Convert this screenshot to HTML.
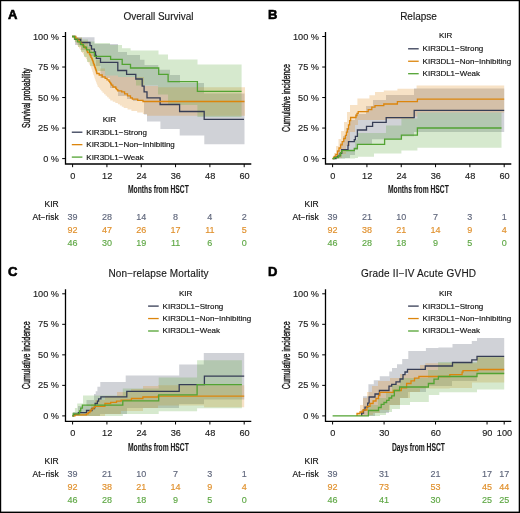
<!DOCTYPE html><html><head><meta charset="utf-8"><style>html,body{margin:0;padding:0;width:520px;height:513px;overflow:hidden;background:#fff}</style></head><body><svg width="520" height="513" viewBox="0 0 520 513" style="position:absolute;left:0;top:0;will-change:transform">
<g font-family='"Liberation Sans", sans-serif'>
<rect x="0" y="0" width="520" height="513" fill="#fff"/>
<rect x="0" y="0" width="520" height="1.2" fill="#000"/><rect x="0" y="0" width="1.2" height="513" fill="#000"/><rect x="518.7" y="0" width="1.3" height="513" fill="#000"/><rect x="0" y="511.6" width="520" height="1.4" fill="#000"/>
<path d="M72.00 36.50 L77.00 36.50 L77.00 37.30 L94.50 37.30 L94.50 44.00 L118.00 44.00 L118.00 52.00 L127.00 52.00 L127.00 55.00 L140.00 55.00 L140.00 59.70 L144.50 59.70 L144.50 65.00 L158.30 65.00 L158.30 69.70 L170.00 69.70 L170.00 75.00 L180.00 75.00 L180.00 83.00 L204.00 83.00 L204.00 93.60 L244.50 93.60 L244.50 144.20 L204.30 144.20 L204.30 135.60 L179.70 135.60 L179.70 129.00 L160.40 129.00 L160.40 121.50 L147.00 121.50 L147.00 114.60 L144.00 114.60 L144.00 101.00 L133.00 101.00 L133.00 99.00 L127.00 99.00 L127.00 96.00 L118.00 96.00 L118.00 88.00 L110.00 88.00 L110.00 78.00 L100.50 78.00 L100.50 66.00 L96.00 66.00 L96.00 56.00 L90.00 56.00 L90.00 50.00 L81.00 50.00 L81.00 45.00 L75.00 45.00 L75.00 36.50 L72.00 36.50Z" fill="#434a60" fill-opacity="0.25" stroke="none"/>
<path d="M72.00 36.50 L76.00 36.50 L76.00 37.50 L82.00 37.50 L82.00 41.00 L88.00 41.00 L88.00 47.00 L92.00 47.00 L92.00 52.00 L96.00 52.00 L96.00 60.00 L100.00 60.00 L100.00 68.50 L105.00 68.50 L105.00 75.40 L118.00 75.40 L118.00 77.00 L144.00 77.00 L144.00 86.00 L158.00 86.00 L158.00 87.20 L245.00 87.20 L245.00 115.80 L147.00 115.80 L147.00 114.00 L142.90 114.00 L142.90 112.50 L137.15 112.50 L137.15 111.00 L131.40 111.00 L131.40 109.50 L127.55 109.50 L127.55 108.00 L123.70 108.00 L123.70 106.73 L121.77 106.73 L121.77 105.47 L119.83 105.47 L119.83 104.20 L117.90 104.20 L117.90 102.93 L115.33 102.93 L115.33 101.67 L112.77 101.67 L112.77 100.40 L110.20 100.40 L110.20 98.86 L108.66 98.86 L108.66 97.32 L107.12 97.32 L107.12 95.78 L105.58 95.78 L105.58 94.24 L104.04 94.24 L104.04 92.70 L102.50 92.70 L102.50 91.25 L101.30 91.25 L101.30 89.80 L100.10 89.80 L100.10 88.35 L98.90 88.35 L98.90 86.90 L97.70 86.90 L97.70 85.36 L97.12 85.36 L97.12 83.82 L96.54 83.82 L96.54 82.28 L95.96 82.28 L95.96 80.74 L95.38 80.74 L95.38 79.20 L94.80 79.20 L94.80 77.76 L94.33 77.76 L94.33 76.33 L93.85 76.33 L93.85 74.89 L93.38 74.89 L93.38 73.45 L92.90 73.45 L92.90 72.01 L92.42 72.01 L92.42 70.58 L91.95 70.58 L91.95 69.14 L91.47 69.14 L91.47 67.70 L91.00 67.70 L91.00 66.25 L90.17 66.25 L90.17 64.80 L89.33 64.80 L89.33 63.35 L88.50 63.35 L88.50 61.90 L87.67 61.90 L87.67 60.45 L86.83 60.45 L86.83 59.00 L86.00 59.00 L86.00 57.50 L85.00 57.50 L85.00 56.00 L84.00 56.00 L84.00 54.50 L83.00 54.50 L83.00 53.00 L82.00 53.00 L82.00 51.50 L81.00 51.50 L81.00 50.00 L80.00 50.00 L80.00 48.50 L79.00 48.50 L79.00 47.00 L78.00 47.00 L78.00 45.60 L77.20 45.60 L77.20 44.20 L76.40 44.20 L76.40 42.80 L75.60 42.80 L75.60 41.40 L74.80 41.40 L74.80 40.00 L74.00 40.00 L74.00 38.25 L73.00 38.25 L73.00 36.50 L72.00 36.50Z" fill="#e08a1a" fill-opacity="0.25" stroke="none"/>
<path d="M72.00 36.50 L76.00 36.50 L76.00 37.50 L82.00 37.50 L82.00 39.50 L88.00 39.50 L88.00 41.50 L94.50 41.50 L94.50 43.10 L110.00 43.10 L110.00 45.10 L122.00 45.10 L122.00 48.20 L130.60 48.20 L130.60 50.50 L158.50 50.50 L158.50 54.50 L168.00 54.50 L168.00 59.50 L197.50 59.50 L197.50 64.60 L241.60 64.60 L241.60 117.00 L197.40 117.00 L197.40 105.00 L168.10 105.00 L168.10 94.60 L158.00 94.60 L158.00 85.40 L136.00 85.40 L136.00 77.00 L118.00 77.00 L118.00 75.40 L105.00 75.40 L105.00 71.00 L96.00 71.00 L96.00 66.00 L90.00 66.00 L90.00 62.00 L87.00 62.00 L87.00 57.00 L84.00 57.00 L84.00 52.00 L81.00 52.00 L81.00 47.00 L78.00 47.00 L78.00 42.00 L75.00 42.00 L75.00 36.50 L72.00 36.50Z" fill="#5aa83c" fill-opacity="0.25" stroke="none"/>
<path d="M72.00 36.50 L75.00 36.50 L75.00 39.40 L80.70 39.40 L80.70 42.50 L90.00 42.50 L90.00 45.70 L91.50 45.70 L91.50 49.10 L94.40 49.10 L94.40 52.00 L95.50 52.00 L95.50 55.30 L96.30 55.30 L96.30 58.40 L100.50 58.40 L100.50 62.40 L117.80 62.40 L117.80 70.50 L126.60 70.50 L126.60 74.40 L135.80 74.40 L135.80 79.00 L142.20 79.00 L142.20 86.10 L144.10 86.10 L144.10 91.90 L147.00 91.90 L147.00 97.80 L160.10 97.80 L160.10 104.50 L179.60 104.50 L179.60 111.50 L204.20 111.50 L204.20 119.30 L244.00 119.30" fill="none" stroke="#363d55" stroke-width="1.3"/>
<path d="M72.00 36.50 L75.80 36.50 L75.80 38.40 L77.55 38.40 L77.55 40.10 L79.30 40.10 L79.30 41.80 L80.43 41.80 L80.43 43.10 L81.57 43.10 L81.57 44.40 L82.70 44.40 L82.70 45.70 L84.00 45.70 L84.00 47.00 L85.30 47.00 L85.30 48.30 L86.60 48.30 L86.60 49.60 L87.05 49.60 L87.05 51.05 L87.50 51.05 L87.50 52.50 L89.50 52.50 L89.50 54.50 L90.25 54.50 L90.25 55.95 L91.00 55.95 L91.00 57.40 L91.70 57.40 L91.70 58.85 L92.40 58.85 L92.40 60.30 L92.90 60.30 L92.90 61.80 L93.40 61.80 L93.40 63.30 L93.90 63.30 L93.90 64.75 L94.40 64.75 L94.40 66.20 L94.87 66.20 L94.87 67.50 L95.33 67.50 L95.33 68.80 L95.80 68.80 L95.80 70.10 L96.30 70.10 L96.30 71.80 L96.80 71.80 L96.80 73.50 L99.20 73.50 L99.20 75.00 L102.20 75.00 L102.20 76.90 L105.10 76.90 L105.10 78.40 L107.05 78.40 L107.05 79.85 L109.00 79.85 L109.00 81.30 L109.83 81.30 L109.83 82.57 L110.67 82.57 L110.67 83.83 L111.50 83.83 L111.50 85.10 L112.90 85.10 L112.90 87.00 L115.80 87.00 L115.80 88.50 L116.80 88.50 L116.80 89.70 L117.80 89.70 L117.80 90.90 L121.70 90.90 L121.70 91.90 L124.60 91.90 L124.60 93.90 L127.50 93.90 L127.50 95.80 L130.50 95.80 L130.50 97.80 L132.40 97.80 L132.40 99.20 L137.70 99.20 L137.70 100.35 L143.00 100.35 L143.00 101.50 L244.50 101.50" fill="none" stroke="#dc850c" stroke-width="1.3"/>
<path d="M72.00 36.50 L74.50 36.50 L74.50 39.20 L77.50 39.20 L77.50 41.80 L80.50 41.80 L80.50 44.50 L83.50 44.50 L83.50 47.10 L86.50 47.10 L86.50 49.80 L89.50 49.80 L89.50 52.40 L94.40 52.40 L94.40 56.30 L110.60 56.30 L110.60 59.30 L122.20 59.30 L122.20 64.40 L130.50 64.40 L130.50 68.00 L158.70 68.00 L158.70 74.40 L168.10 74.40 L168.10 81.70 L197.40 81.70 L197.40 91.40 L241.60 91.40" fill="none" stroke="#52a332" stroke-width="1.3"/>
<g transform="translate(0,0)">
<text x="7.90" y="18.50" font-size="13" text-anchor="start" fill="#000" font-weight="bold" stroke="#000" stroke-width="0.6">A</text>
<text x="158.50" y="19.60" font-size="10" text-anchor="middle" fill="#1a1a1a" font-weight="normal" letter-spacing="0" stroke="#1a1a1a" stroke-width="0.15">Overall Survival</text>
<path d="M65.5 32 V164.0 H251.3" fill="none" stroke="#000" stroke-width="1.3"/>
<path d="M62.2 158.60 H65.5" stroke="#000" stroke-width="1"/>
<text x="59.00" y="161.60" font-size="9.2" text-anchor="end" fill="#222" font-weight="normal" stroke="#222" stroke-width="0.15">0 %</text>
<path d="M62.2 128.07 H65.5" stroke="#000" stroke-width="1"/>
<text x="59.00" y="131.07" font-size="9.2" text-anchor="end" fill="#222" font-weight="normal" stroke="#222" stroke-width="0.15">25 %</text>
<path d="M62.2 97.55 H65.5" stroke="#000" stroke-width="1"/>
<text x="59.00" y="100.55" font-size="9.2" text-anchor="end" fill="#222" font-weight="normal" stroke="#222" stroke-width="0.15">50 %</text>
<path d="M62.2 67.02 H65.5" stroke="#000" stroke-width="1"/>
<text x="59.00" y="70.02" font-size="9.2" text-anchor="end" fill="#222" font-weight="normal" stroke="#222" stroke-width="0.15">75 %</text>
<path d="M62.2 36.50 H65.5" stroke="#000" stroke-width="1"/>
<text x="59.00" y="39.50" font-size="9.2" text-anchor="end" fill="#222" font-weight="normal" stroke="#222" stroke-width="0.15">100 %</text>
<path d="M72.60 164.0 V167.2" stroke="#000" stroke-width="1"/>
<text x="72.90" y="178.70" font-size="9.2" text-anchor="middle" fill="#222" font-weight="normal" stroke="#222" stroke-width="0.15">0</text>
<path d="M106.92 164.0 V167.2" stroke="#000" stroke-width="1"/>
<text x="107.22" y="178.70" font-size="9.2" text-anchor="middle" fill="#222" font-weight="normal" stroke="#222" stroke-width="0.15">12</text>
<path d="M141.24 164.0 V167.2" stroke="#000" stroke-width="1"/>
<text x="141.54" y="178.70" font-size="9.2" text-anchor="middle" fill="#222" font-weight="normal" stroke="#222" stroke-width="0.15">24</text>
<path d="M175.56 164.0 V167.2" stroke="#000" stroke-width="1"/>
<text x="175.86" y="178.70" font-size="9.2" text-anchor="middle" fill="#222" font-weight="normal" stroke="#222" stroke-width="0.15">36</text>
<path d="M209.88 164.0 V167.2" stroke="#000" stroke-width="1"/>
<text x="210.18" y="178.70" font-size="9.2" text-anchor="middle" fill="#222" font-weight="normal" stroke="#222" stroke-width="0.15">48</text>
<path d="M244.20 164.0 V167.2" stroke="#000" stroke-width="1"/>
<text x="244.50" y="178.70" font-size="9.2" text-anchor="middle" fill="#222" font-weight="normal" stroke="#222" stroke-width="0.15">60</text>
<g transform="translate(158.40,193.20) scale(0.64,1)"><text x="0" y="0" font-size="10.5" text-anchor="middle" fill="#1a1a1a" font-weight="bold" stroke="#1a1a1a" stroke-width="0.1">Months from HSCT</text></g>
<g transform="translate(30.00,98.00) rotate(-90) scale(0.7,1)"><text x="0" y="0" font-size="10.2" text-anchor="middle" fill="#1a1a1a" font-weight="normal" stroke="#1a1a1a" stroke-width="0.4">Survival probability</text></g>
<text x="58.70" y="207.00" font-size="8.5" text-anchor="end" fill="#111" font-weight="normal" stroke="#111" stroke-width="0.15">KIR</text>
<text x="58.70" y="219.90" font-size="8.5" text-anchor="end" fill="#111" font-weight="normal" stroke="#111" stroke-width="0.15">At−risk</text>
<text x="72.60" y="219.90" font-size="9.0" text-anchor="middle" fill="#60677c" font-weight="normal" stroke="#60677c" stroke-width="0.15">39</text>
<text x="106.92" y="219.90" font-size="9.0" text-anchor="middle" fill="#60677c" font-weight="normal" stroke="#60677c" stroke-width="0.15">28</text>
<text x="141.24" y="219.90" font-size="9.0" text-anchor="middle" fill="#60677c" font-weight="normal" stroke="#60677c" stroke-width="0.15">14</text>
<text x="175.56" y="219.90" font-size="9.0" text-anchor="middle" fill="#60677c" font-weight="normal" stroke="#60677c" stroke-width="0.15">8</text>
<text x="209.88" y="219.90" font-size="9.0" text-anchor="middle" fill="#60677c" font-weight="normal" stroke="#60677c" stroke-width="0.15">4</text>
<text x="244.20" y="219.90" font-size="9.0" text-anchor="middle" fill="#60677c" font-weight="normal" stroke="#60677c" stroke-width="0.15">2</text>
<text x="72.60" y="233.00" font-size="9.0" text-anchor="middle" fill="#e0902c" font-weight="normal" stroke="#e0902c" stroke-width="0.15">92</text>
<text x="106.92" y="233.00" font-size="9.0" text-anchor="middle" fill="#e0902c" font-weight="normal" stroke="#e0902c" stroke-width="0.15">47</text>
<text x="141.24" y="233.00" font-size="9.0" text-anchor="middle" fill="#e0902c" font-weight="normal" stroke="#e0902c" stroke-width="0.15">26</text>
<text x="175.56" y="233.00" font-size="9.0" text-anchor="middle" fill="#e0902c" font-weight="normal" stroke="#e0902c" stroke-width="0.15">17</text>
<text x="209.88" y="233.00" font-size="9.0" text-anchor="middle" fill="#e0902c" font-weight="normal" stroke="#e0902c" stroke-width="0.15">11</text>
<text x="244.20" y="233.00" font-size="9.0" text-anchor="middle" fill="#e0902c" font-weight="normal" stroke="#e0902c" stroke-width="0.15">5</text>
<text x="72.60" y="245.70" font-size="9.0" text-anchor="middle" fill="#5fa845" font-weight="normal" stroke="#5fa845" stroke-width="0.15">46</text>
<text x="106.92" y="245.70" font-size="9.0" text-anchor="middle" fill="#5fa845" font-weight="normal" stroke="#5fa845" stroke-width="0.15">30</text>
<text x="141.24" y="245.70" font-size="9.0" text-anchor="middle" fill="#5fa845" font-weight="normal" stroke="#5fa845" stroke-width="0.15">19</text>
<text x="175.56" y="245.70" font-size="9.0" text-anchor="middle" fill="#5fa845" font-weight="normal" stroke="#5fa845" stroke-width="0.15">11</text>
<text x="209.88" y="245.70" font-size="9.0" text-anchor="middle" fill="#5fa845" font-weight="normal" stroke="#5fa845" stroke-width="0.15">6</text>
<text x="244.20" y="245.70" font-size="9.0" text-anchor="middle" fill="#5fa845" font-weight="normal" stroke="#5fa845" stroke-width="0.15">0</text>
<text x="109.30" y="121.80" font-size="8" text-anchor="middle" fill="#111" font-weight="normal" stroke="#111" stroke-width="0.15">KIR</text>
<path d="M71.80 132.20 H82.40" stroke="#363d55" stroke-width="1.3"/>
<text x="86.30" y="134.70" font-size="8" text-anchor="start" fill="#111" font-weight="normal" stroke="#111" stroke-width="0.15">KIR3DL1−Strong</text>
<path d="M71.80 144.65 H82.40" stroke="#dc850c" stroke-width="1.3"/>
<text x="86.30" y="147.15" font-size="8" text-anchor="start" fill="#111" font-weight="normal" stroke="#111" stroke-width="0.15">KIR3DL1−Non−Inhibiting</text>
<path d="M71.80 157.10 H82.40" stroke="#52a332" stroke-width="1.3"/>
<text x="86.30" y="159.60" font-size="8" text-anchor="start" fill="#111" font-weight="normal" stroke="#111" stroke-width="0.15">KIR3DL1−Weak</text>
</g>
<path d="M332.60 158.60 L334.00 158.60 L334.00 156.00 L337.00 156.00 L337.00 150.00 L340.00 150.00 L340.00 143.00 L343.00 143.00 L343.00 136.00 L346.00 136.00 L346.00 128.00 L349.00 128.00 L349.00 120.00 L355.00 120.00 L355.00 114.00 L366.00 114.00 L366.00 106.00 L373.00 106.00 L373.00 100.00 L386.00 100.00 L386.00 95.00 L414.00 95.00 L414.00 88.50 L504.20 88.50 L504.20 132.00 L414.00 132.00 L414.00 136.20 L401.40 136.20 L401.40 139.20 L372.00 139.20 L372.00 145.00 L358.00 145.00 L358.00 150.00 L355.00 150.00 L355.00 155.00 L350.00 155.00 L350.00 158.00 L345.00 158.00 L345.00 158.60 L332.60 158.60Z" fill="#434a60" fill-opacity="0.25" stroke="none"/>
<path d="M332.60 158.60 L334.00 158.60 L334.00 153.00 L336.00 153.00 L336.00 146.00 L338.50 146.00 L338.50 139.00 L341.00 139.00 L341.00 131.00 L344.00 131.00 L344.00 122.00 L347.00 122.00 L347.00 112.00 L350.00 112.00 L350.00 105.00 L357.40 105.00 L357.40 98.40 L369.40 98.40 L369.40 95.20 L375.00 95.20 L375.00 92.00 L383.80 92.00 L383.80 90.40 L397.40 90.40 L397.40 88.80 L416.60 88.80 L416.60 85.60 L504.20 85.60 L504.20 112.60 L417.40 112.60 L417.40 116.50 L414.00 116.50 L414.00 119.00 L386.00 119.00 L386.00 120.00 L358.00 120.00 L358.00 125.00 L355.00 125.00 L355.00 132.00 L350.00 132.00 L350.00 146.00 L346.00 146.00 L346.00 154.00 L342.00 154.00 L342.00 158.00 L338.00 158.00 L338.00 158.60 L332.60 158.60Z" fill="#e08a1a" fill-opacity="0.25" stroke="none"/>
<path d="M332.60 158.60 L334.00 158.60 L334.00 157.00 L338.00 157.00 L338.00 155.00 L341.00 155.00 L341.00 152.00 L346.00 152.00 L346.00 149.00 L355.00 149.00 L355.00 140.00 L357.40 140.00 L357.40 133.00 L386.00 133.00 L386.00 125.40 L401.40 125.40 L401.40 118.50 L417.40 118.50 L417.40 112.60 L501.50 112.60 L501.50 147.80 L417.40 147.80 L417.40 150.40 L401.40 150.40 L401.40 153.60 L374.00 153.60 L374.00 156.80 L358.00 156.80 L358.00 158.00 L355.00 158.00 L355.00 158.60 L335.00 158.60 L335.00 158.60 L332.60 158.60Z" fill="#5aa83c" fill-opacity="0.25" stroke="none"/>
<path d="M332.60 158.60 L336.00 158.60 L336.00 157.00 L338.00 157.00 L338.00 155.90 L340.10 155.90 L340.10 153.30 L341.70 153.30 L341.70 149.60 L348.00 149.60 L348.00 145.40 L348.50 145.40 L348.50 141.70 L354.30 141.70 L354.30 139.60 L355.40 139.60 L355.40 136.40 L357.40 136.40 L357.40 130.00 L366.50 130.00 L366.50 126.40 L372.60 126.40 L372.60 122.40 L386.20 122.40 L386.20 117.60 L414.20 117.60 L414.20 110.40 L504.20 110.40" fill="none" stroke="#363d55" stroke-width="1.3"/>
<path d="M332.60 158.60 L333.50 158.60 L333.50 157.50 L334.30 157.50 L334.30 156.40 L335.90 156.40 L335.90 154.30 L337.50 154.30 L337.50 151.20 L339.00 151.20 L339.00 148.00 L340.60 148.00 L340.60 144.80 L342.20 144.80 L342.20 141.70 L343.80 141.70 L343.80 138.50 L345.40 138.50 L345.40 135.40 L346.40 135.40 L346.40 132.20 L347.50 132.20 L347.50 129.00 L348.50 129.00 L348.50 124.80 L349.60 124.80 L349.60 120.60 L350.60 120.60 L350.60 117.50 L356.00 117.50 L356.00 115.50 L357.00 115.50 L357.00 113.30 L358.20 113.30 L358.20 111.60 L368.20 111.60 L368.20 109.60 L371.80 109.60 L371.80 107.20 L375.00 107.20 L375.00 105.60 L383.80 105.60 L383.80 104.00 L397.40 104.00 L397.40 101.60 L417.40 101.60 L417.40 99.20 L504.20 99.20" fill="none" stroke="#dc850c" stroke-width="1.3"/>
<path d="M332.60 158.60 L334.30 158.60 L334.30 157.50 L338.50 157.50 L338.50 155.40 L340.60 155.40 L340.60 152.70 L341.70 152.70 L341.70 150.60 L354.30 150.60 L354.30 148.50 L357.40 148.50 L357.40 144.30 L384.60 144.30 L384.60 139.20 L401.40 139.20 L401.40 135.20 L417.40 135.20 L417.40 128.00 L501.50 128.00" fill="none" stroke="#52a332" stroke-width="1.3"/>
<g transform="translate(260,0)">
<text x="7.90" y="18.50" font-size="13" text-anchor="start" fill="#000" font-weight="bold" stroke="#000" stroke-width="0.6">B</text>
<text x="158.50" y="19.60" font-size="10" text-anchor="middle" fill="#1a1a1a" font-weight="normal" letter-spacing="0" stroke="#1a1a1a" stroke-width="0.15">Relapse</text>
<path d="M65.5 32 V164.0 H251.3" fill="none" stroke="#000" stroke-width="1.3"/>
<path d="M62.2 158.60 H65.5" stroke="#000" stroke-width="1"/>
<text x="59.00" y="161.60" font-size="9.2" text-anchor="end" fill="#222" font-weight="normal" stroke="#222" stroke-width="0.15">0 %</text>
<path d="M62.2 128.07 H65.5" stroke="#000" stroke-width="1"/>
<text x="59.00" y="131.07" font-size="9.2" text-anchor="end" fill="#222" font-weight="normal" stroke="#222" stroke-width="0.15">25 %</text>
<path d="M62.2 97.55 H65.5" stroke="#000" stroke-width="1"/>
<text x="59.00" y="100.55" font-size="9.2" text-anchor="end" fill="#222" font-weight="normal" stroke="#222" stroke-width="0.15">50 %</text>
<path d="M62.2 67.02 H65.5" stroke="#000" stroke-width="1"/>
<text x="59.00" y="70.02" font-size="9.2" text-anchor="end" fill="#222" font-weight="normal" stroke="#222" stroke-width="0.15">75 %</text>
<path d="M62.2 36.50 H65.5" stroke="#000" stroke-width="1"/>
<text x="59.00" y="39.50" font-size="9.2" text-anchor="end" fill="#222" font-weight="normal" stroke="#222" stroke-width="0.15">100 %</text>
<path d="M72.60 164.0 V167.2" stroke="#000" stroke-width="1"/>
<text x="72.90" y="178.70" font-size="9.2" text-anchor="middle" fill="#222" font-weight="normal" stroke="#222" stroke-width="0.15">0</text>
<path d="M106.92 164.0 V167.2" stroke="#000" stroke-width="1"/>
<text x="107.22" y="178.70" font-size="9.2" text-anchor="middle" fill="#222" font-weight="normal" stroke="#222" stroke-width="0.15">12</text>
<path d="M141.24 164.0 V167.2" stroke="#000" stroke-width="1"/>
<text x="141.54" y="178.70" font-size="9.2" text-anchor="middle" fill="#222" font-weight="normal" stroke="#222" stroke-width="0.15">24</text>
<path d="M175.56 164.0 V167.2" stroke="#000" stroke-width="1"/>
<text x="175.86" y="178.70" font-size="9.2" text-anchor="middle" fill="#222" font-weight="normal" stroke="#222" stroke-width="0.15">36</text>
<path d="M209.88 164.0 V167.2" stroke="#000" stroke-width="1"/>
<text x="210.18" y="178.70" font-size="9.2" text-anchor="middle" fill="#222" font-weight="normal" stroke="#222" stroke-width="0.15">48</text>
<path d="M244.20 164.0 V167.2" stroke="#000" stroke-width="1"/>
<text x="244.50" y="178.70" font-size="9.2" text-anchor="middle" fill="#222" font-weight="normal" stroke="#222" stroke-width="0.15">60</text>
<g transform="translate(158.40,193.20) scale(0.64,1)"><text x="0" y="0" font-size="10.5" text-anchor="middle" fill="#1a1a1a" font-weight="bold" stroke="#1a1a1a" stroke-width="0.1">Months from HSCT</text></g>
<g transform="translate(30.00,98.00) rotate(-90) scale(0.7,1)"><text x="0" y="0" font-size="10.2" text-anchor="middle" fill="#1a1a1a" font-weight="normal" stroke="#1a1a1a" stroke-width="0.4">Cumulative incidence</text></g>
<text x="58.70" y="207.00" font-size="8.5" text-anchor="end" fill="#111" font-weight="normal" stroke="#111" stroke-width="0.15">KIR</text>
<text x="58.70" y="219.90" font-size="8.5" text-anchor="end" fill="#111" font-weight="normal" stroke="#111" stroke-width="0.15">At−risk</text>
<text x="72.60" y="219.90" font-size="9.0" text-anchor="middle" fill="#60677c" font-weight="normal" stroke="#60677c" stroke-width="0.15">39</text>
<text x="106.92" y="219.90" font-size="9.0" text-anchor="middle" fill="#60677c" font-weight="normal" stroke="#60677c" stroke-width="0.15">21</text>
<text x="141.24" y="219.90" font-size="9.0" text-anchor="middle" fill="#60677c" font-weight="normal" stroke="#60677c" stroke-width="0.15">10</text>
<text x="175.56" y="219.90" font-size="9.0" text-anchor="middle" fill="#60677c" font-weight="normal" stroke="#60677c" stroke-width="0.15">7</text>
<text x="209.88" y="219.90" font-size="9.0" text-anchor="middle" fill="#60677c" font-weight="normal" stroke="#60677c" stroke-width="0.15">3</text>
<text x="244.20" y="219.90" font-size="9.0" text-anchor="middle" fill="#60677c" font-weight="normal" stroke="#60677c" stroke-width="0.15">1</text>
<text x="72.60" y="233.00" font-size="9.0" text-anchor="middle" fill="#e0902c" font-weight="normal" stroke="#e0902c" stroke-width="0.15">92</text>
<text x="106.92" y="233.00" font-size="9.0" text-anchor="middle" fill="#e0902c" font-weight="normal" stroke="#e0902c" stroke-width="0.15">38</text>
<text x="141.24" y="233.00" font-size="9.0" text-anchor="middle" fill="#e0902c" font-weight="normal" stroke="#e0902c" stroke-width="0.15">21</text>
<text x="175.56" y="233.00" font-size="9.0" text-anchor="middle" fill="#e0902c" font-weight="normal" stroke="#e0902c" stroke-width="0.15">14</text>
<text x="209.88" y="233.00" font-size="9.0" text-anchor="middle" fill="#e0902c" font-weight="normal" stroke="#e0902c" stroke-width="0.15">9</text>
<text x="244.20" y="233.00" font-size="9.0" text-anchor="middle" fill="#e0902c" font-weight="normal" stroke="#e0902c" stroke-width="0.15">4</text>
<text x="72.60" y="245.70" font-size="9.0" text-anchor="middle" fill="#5fa845" font-weight="normal" stroke="#5fa845" stroke-width="0.15">46</text>
<text x="106.92" y="245.70" font-size="9.0" text-anchor="middle" fill="#5fa845" font-weight="normal" stroke="#5fa845" stroke-width="0.15">28</text>
<text x="141.24" y="245.70" font-size="9.0" text-anchor="middle" fill="#5fa845" font-weight="normal" stroke="#5fa845" stroke-width="0.15">18</text>
<text x="175.56" y="245.70" font-size="9.0" text-anchor="middle" fill="#5fa845" font-weight="normal" stroke="#5fa845" stroke-width="0.15">9</text>
<text x="209.88" y="245.70" font-size="9.0" text-anchor="middle" fill="#5fa845" font-weight="normal" stroke="#5fa845" stroke-width="0.15">5</text>
<text x="244.20" y="245.70" font-size="9.0" text-anchor="middle" fill="#5fa845" font-weight="normal" stroke="#5fa845" stroke-width="0.15">0</text>
<text x="185.60" y="38.40" font-size="8" text-anchor="middle" fill="#111" font-weight="normal" stroke="#111" stroke-width="0.15">KIR</text>
<path d="M148.10 48.80 H158.70" stroke="#363d55" stroke-width="1.3"/>
<text x="162.60" y="51.30" font-size="8" text-anchor="start" fill="#111" font-weight="normal" stroke="#111" stroke-width="0.15">KIR3DL1−Strong</text>
<path d="M148.10 61.25 H158.70" stroke="#dc850c" stroke-width="1.3"/>
<text x="162.60" y="63.75" font-size="8" text-anchor="start" fill="#111" font-weight="normal" stroke="#111" stroke-width="0.15">KIR3DL1−Non−Inhibiting</text>
<path d="M148.10 73.70 H158.70" stroke="#52a332" stroke-width="1.3"/>
<text x="162.60" y="76.20" font-size="8" text-anchor="start" fill="#111" font-weight="normal" stroke="#111" stroke-width="0.15">KIR3DL1−Weak</text>
</g>
<path d="M72.40 415.90 L73.00 415.90 L73.00 412.00 L78.00 412.00 L78.00 406.00 L86.50 406.00 L86.50 400.00 L94.00 400.00 L94.00 394.00 L95.70 394.00 L95.70 391.30 L97.40 391.30 L97.40 386.70 L100.30 386.70 L100.30 382.10 L125.70 382.10 L125.70 375.40 L179.20 375.40 L179.20 364.60 L203.80 364.60 L203.80 353.10 L244.20 353.10 L244.20 399.60 L204.00 399.60 L204.00 404.00 L179.00 404.00 L179.00 408.00 L127.00 408.00 L127.00 414.00 L100.00 414.00 L100.00 415.90 L72.40 415.90Z" fill="#434a60" fill-opacity="0.25" stroke="none"/>
<path d="M72.40 415.90 L75.00 415.90 L75.00 413.00 L86.00 413.00 L86.00 410.00 L91.00 410.00 L91.00 404.00 L95.00 404.00 L95.00 400.00 L105.00 400.00 L105.00 396.00 L117.00 396.00 L117.00 392.00 L131.00 392.00 L131.00 389.00 L143.00 389.00 L143.00 386.00 L158.00 386.00 L158.00 385.20 L244.20 385.20 L244.20 407.30 L204.00 407.30 L204.00 405.40 L158.00 405.40 L158.00 408.00 L143.00 408.00 L143.00 411.00 L121.00 411.00 L121.00 414.00 L105.00 414.00 L105.00 415.90 L72.40 415.90Z" fill="#e08a1a" fill-opacity="0.25" stroke="none"/>
<path d="M72.40 415.90 L72.50 415.90 L72.50 412.00 L74.90 412.00 L74.90 408.10 L77.20 408.10 L77.20 403.50 L83.00 403.50 L83.00 395.40 L122.80 395.40 L122.80 388.50 L158.70 388.50 L158.70 377.50 L197.10 377.50 L197.10 360.20 L241.90 360.20 L241.90 408.30 L197.10 408.30 L197.10 411.20 L158.70 411.20 L158.70 414.00 L122.80 414.00 L122.80 415.90 L72.40 415.90Z" fill="#5aa83c" fill-opacity="0.25" stroke="none"/>
<path d="M72.40 415.90 L73.80 415.90 L73.80 414.40 L78.40 414.40 L78.40 412.70 L86.50 412.70 L86.50 410.50 L92.00 410.50 L92.00 408.50 L94.50 408.50 L94.50 406.90 L95.10 406.90 L95.10 403.50 L97.40 403.50 L97.40 401.20 L98.60 401.20 L98.60 398.80 L100.90 398.80 L100.90 396.80 L126.80 396.80 L126.80 391.40 L179.20 391.40 L179.20 384.60 L204.40 384.60 L204.40 376.20 L244.20 376.20" fill="none" stroke="#363d55" stroke-width="1.3"/>
<path d="M72.40 415.90 L75.00 415.90 L75.00 414.90 L86.50 414.90 L86.50 413.80 L88.20 413.80 L88.20 412.70 L89.90 412.70 L89.90 411.00 L91.10 411.00 L91.10 409.20 L93.00 409.20 L93.00 407.80 L94.50 407.80 L94.50 406.30 L104.90 406.30 L104.90 403.50 L110.70 403.50 L110.70 402.30 L116.50 402.30 L116.50 401.20 L121.10 401.20 L121.10 400.20 L131.40 400.20 L131.40 398.50 L142.90 398.50 L142.90 397.00 L158.00 397.00 L158.00 396.20 L244.20 396.20" fill="none" stroke="#dc850c" stroke-width="1.3"/>
<path d="M72.40 415.90 L73.20 415.90 L73.20 413.80 L79.50 413.80 L79.50 411.00 L80.70 411.00 L80.70 408.10 L82.40 408.10 L82.40 405.20 L122.80 405.20 L122.80 400.90 L158.70 400.90 L158.70 394.80 L197.10 394.80 L197.10 384.60 L241.90 384.60" fill="none" stroke="#52a332" stroke-width="1.3"/>
<g transform="translate(0,257.3)">
<text x="7.90" y="18.50" font-size="13" text-anchor="start" fill="#000" font-weight="bold" stroke="#000" stroke-width="0.6">C</text>
<text x="158.56" y="19.60" font-size="10" text-anchor="middle" fill="#1a1a1a" font-weight="normal" letter-spacing="0.13" stroke="#1a1a1a" stroke-width="0.15">Non−relapse Mortality</text>
<path d="M65.5 32 V164.0 H251.3" fill="none" stroke="#000" stroke-width="1.3"/>
<path d="M62.2 158.60 H65.5" stroke="#000" stroke-width="1"/>
<text x="59.00" y="161.60" font-size="9.2" text-anchor="end" fill="#222" font-weight="normal" stroke="#222" stroke-width="0.15">0 %</text>
<path d="M62.2 128.07 H65.5" stroke="#000" stroke-width="1"/>
<text x="59.00" y="131.07" font-size="9.2" text-anchor="end" fill="#222" font-weight="normal" stroke="#222" stroke-width="0.15">25 %</text>
<path d="M62.2 97.55 H65.5" stroke="#000" stroke-width="1"/>
<text x="59.00" y="100.55" font-size="9.2" text-anchor="end" fill="#222" font-weight="normal" stroke="#222" stroke-width="0.15">50 %</text>
<path d="M62.2 67.02 H65.5" stroke="#000" stroke-width="1"/>
<text x="59.00" y="70.02" font-size="9.2" text-anchor="end" fill="#222" font-weight="normal" stroke="#222" stroke-width="0.15">75 %</text>
<path d="M62.2 36.50 H65.5" stroke="#000" stroke-width="1"/>
<text x="59.00" y="39.50" font-size="9.2" text-anchor="end" fill="#222" font-weight="normal" stroke="#222" stroke-width="0.15">100 %</text>
<path d="M72.60 164.0 V167.2" stroke="#000" stroke-width="1"/>
<text x="72.90" y="178.70" font-size="9.2" text-anchor="middle" fill="#222" font-weight="normal" stroke="#222" stroke-width="0.15">0</text>
<path d="M106.92 164.0 V167.2" stroke="#000" stroke-width="1"/>
<text x="107.22" y="178.70" font-size="9.2" text-anchor="middle" fill="#222" font-weight="normal" stroke="#222" stroke-width="0.15">12</text>
<path d="M141.24 164.0 V167.2" stroke="#000" stroke-width="1"/>
<text x="141.54" y="178.70" font-size="9.2" text-anchor="middle" fill="#222" font-weight="normal" stroke="#222" stroke-width="0.15">24</text>
<path d="M175.56 164.0 V167.2" stroke="#000" stroke-width="1"/>
<text x="175.86" y="178.70" font-size="9.2" text-anchor="middle" fill="#222" font-weight="normal" stroke="#222" stroke-width="0.15">36</text>
<path d="M209.88 164.0 V167.2" stroke="#000" stroke-width="1"/>
<text x="210.18" y="178.70" font-size="9.2" text-anchor="middle" fill="#222" font-weight="normal" stroke="#222" stroke-width="0.15">48</text>
<path d="M244.20 164.0 V167.2" stroke="#000" stroke-width="1"/>
<text x="244.50" y="178.70" font-size="9.2" text-anchor="middle" fill="#222" font-weight="normal" stroke="#222" stroke-width="0.15">60</text>
<g transform="translate(158.40,193.20) scale(0.64,1)"><text x="0" y="0" font-size="10.5" text-anchor="middle" fill="#1a1a1a" font-weight="bold" stroke="#1a1a1a" stroke-width="0.1">Months from HSCT</text></g>
<g transform="translate(30.00,98.00) rotate(-90) scale(0.7,1)"><text x="0" y="0" font-size="10.2" text-anchor="middle" fill="#1a1a1a" font-weight="normal" stroke="#1a1a1a" stroke-width="0.4">Cumulative incidence</text></g>
<text x="58.70" y="207.00" font-size="8.5" text-anchor="end" fill="#111" font-weight="normal" stroke="#111" stroke-width="0.15">KIR</text>
<text x="58.70" y="219.90" font-size="8.5" text-anchor="end" fill="#111" font-weight="normal" stroke="#111" stroke-width="0.15">At−risk</text>
<text x="72.60" y="219.90" font-size="9.0" text-anchor="middle" fill="#60677c" font-weight="normal" stroke="#60677c" stroke-width="0.15">39</text>
<text x="106.92" y="219.90" font-size="9.0" text-anchor="middle" fill="#60677c" font-weight="normal" stroke="#60677c" stroke-width="0.15">21</text>
<text x="141.24" y="219.90" font-size="9.0" text-anchor="middle" fill="#60677c" font-weight="normal" stroke="#60677c" stroke-width="0.15">10</text>
<text x="175.56" y="219.90" font-size="9.0" text-anchor="middle" fill="#60677c" font-weight="normal" stroke="#60677c" stroke-width="0.15">7</text>
<text x="209.88" y="219.90" font-size="9.0" text-anchor="middle" fill="#60677c" font-weight="normal" stroke="#60677c" stroke-width="0.15">3</text>
<text x="244.20" y="219.90" font-size="9.0" text-anchor="middle" fill="#60677c" font-weight="normal" stroke="#60677c" stroke-width="0.15">1</text>
<text x="72.60" y="233.00" font-size="9.0" text-anchor="middle" fill="#e0902c" font-weight="normal" stroke="#e0902c" stroke-width="0.15">92</text>
<text x="106.92" y="233.00" font-size="9.0" text-anchor="middle" fill="#e0902c" font-weight="normal" stroke="#e0902c" stroke-width="0.15">38</text>
<text x="141.24" y="233.00" font-size="9.0" text-anchor="middle" fill="#e0902c" font-weight="normal" stroke="#e0902c" stroke-width="0.15">21</text>
<text x="175.56" y="233.00" font-size="9.0" text-anchor="middle" fill="#e0902c" font-weight="normal" stroke="#e0902c" stroke-width="0.15">14</text>
<text x="209.88" y="233.00" font-size="9.0" text-anchor="middle" fill="#e0902c" font-weight="normal" stroke="#e0902c" stroke-width="0.15">9</text>
<text x="244.20" y="233.00" font-size="9.0" text-anchor="middle" fill="#e0902c" font-weight="normal" stroke="#e0902c" stroke-width="0.15">4</text>
<text x="72.60" y="245.70" font-size="9.0" text-anchor="middle" fill="#5fa845" font-weight="normal" stroke="#5fa845" stroke-width="0.15">46</text>
<text x="106.92" y="245.70" font-size="9.0" text-anchor="middle" fill="#5fa845" font-weight="normal" stroke="#5fa845" stroke-width="0.15">28</text>
<text x="141.24" y="245.70" font-size="9.0" text-anchor="middle" fill="#5fa845" font-weight="normal" stroke="#5fa845" stroke-width="0.15">18</text>
<text x="175.56" y="245.70" font-size="9.0" text-anchor="middle" fill="#5fa845" font-weight="normal" stroke="#5fa845" stroke-width="0.15">9</text>
<text x="209.88" y="245.70" font-size="9.0" text-anchor="middle" fill="#5fa845" font-weight="normal" stroke="#5fa845" stroke-width="0.15">5</text>
<text x="244.20" y="245.70" font-size="9.0" text-anchor="middle" fill="#5fa845" font-weight="normal" stroke="#5fa845" stroke-width="0.15">0</text>
<text x="185.60" y="38.40" font-size="8" text-anchor="middle" fill="#111" font-weight="normal" stroke="#111" stroke-width="0.15">KIR</text>
<path d="M148.10 48.80 H158.70" stroke="#363d55" stroke-width="1.3"/>
<text x="162.60" y="51.30" font-size="8" text-anchor="start" fill="#111" font-weight="normal" stroke="#111" stroke-width="0.15">KIR3DL1−Strong</text>
<path d="M148.10 61.25 H158.70" stroke="#dc850c" stroke-width="1.3"/>
<text x="162.60" y="63.75" font-size="8" text-anchor="start" fill="#111" font-weight="normal" stroke="#111" stroke-width="0.15">KIR3DL1−Non−Inhibiting</text>
<path d="M148.10 73.70 H158.70" stroke="#52a332" stroke-width="1.3"/>
<text x="162.60" y="76.20" font-size="8" text-anchor="start" fill="#111" font-weight="normal" stroke="#111" stroke-width="0.15">KIR3DL1−Weak</text>
</g>
<path d="M332.60 415.90 L361.00 415.90 L361.00 410.00 L363.00 410.00 L363.00 396.30 L368.40 396.30 L368.40 384.20 L373.80 384.20 L373.80 380.20 L379.80 380.20 L379.80 376.20 L389.30 376.20 L389.30 371.40 L392.00 371.40 L392.00 368.00 L397.00 368.00 L397.00 364.20 L402.20 364.20 L402.20 359.00 L408.30 359.00 L408.30 351.00 L425.90 351.00 L425.90 348.00 L438.40 348.00 L438.40 347.50 L452.50 347.50 L452.50 344.00 L471.80 344.00 L471.80 340.90 L477.00 340.90 L477.00 337.90 L504.20 337.90 L504.20 374.00 L477.00 374.00 L477.00 381.00 L452.00 381.00 L452.00 386.00 L426.00 386.00 L426.00 392.00 L408.00 392.00 L408.00 398.00 L400.00 398.00 L400.00 405.00 L389.00 405.00 L389.00 413.00 L375.00 413.00 L375.00 415.90 L332.60 415.90Z" fill="#434a60" fill-opacity="0.25" stroke="none"/>
<path d="M332.60 415.90 L357.00 415.90 L357.00 413.00 L360.00 413.00 L360.00 405.00 L363.00 405.00 L363.00 398.00 L367.00 398.00 L367.00 392.00 L372.00 392.00 L372.00 386.00 L378.00 386.00 L378.00 381.00 L390.00 381.00 L390.00 378.00 L400.00 378.00 L400.00 374.00 L408.00 374.00 L408.00 370.00 L420.00 370.00 L420.00 365.00 L425.30 365.00 L425.30 363.30 L477.00 363.30 L477.00 357.20 L504.20 357.20 L504.20 382.60 L472.00 382.60 L472.00 387.90 L449.80 387.90 L449.80 388.50 L420.00 388.50 L420.00 392.00 L410.00 392.00 L410.00 398.00 L400.00 398.00 L400.00 405.00 L390.00 405.00 L390.00 410.00 L380.00 410.00 L380.00 413.00 L373.00 413.00 L373.00 415.00 L365.00 415.00 L365.00 415.90 L332.60 415.90Z" fill="#e08a1a" fill-opacity="0.25" stroke="none"/>
<path d="M332.60 415.90 L368.00 415.90 L368.00 405.00 L378.00 405.00 L378.00 398.00 L386.00 398.00 L386.00 392.00 L392.00 392.00 L392.00 385.00 L400.00 385.00 L400.00 378.00 L428.00 378.00 L428.00 370.00 L438.00 370.00 L438.00 362.00 L477.00 362.00 L477.00 357.00 L504.20 357.00 L504.20 389.60 L477.00 389.60 L477.00 392.30 L439.30 392.30 L439.30 395.00 L428.80 395.00 L428.80 402.00 L410.00 402.00 L410.00 405.00 L400.00 405.00 L400.00 409.00 L392.00 409.00 L392.00 412.00 L386.00 412.00 L386.00 415.00 L380.00 415.00 L380.00 415.90 L332.60 415.90Z" fill="#5aa83c" fill-opacity="0.25" stroke="none"/>
<path d="M361.70 415.90 L361.70 415.90 L361.70 413.00 L363.50 413.00 L363.50 410.00 L365.00 410.00 L365.00 407.10 L367.70 407.10 L367.70 403.10 L369.10 403.10 L369.10 397.00 L375.00 397.00 L375.00 394.00 L379.40 394.00 L379.40 390.50 L389.00 390.50 L389.00 386.10 L391.70 386.10 L391.70 384.40 L396.00 384.40 L396.00 381.80 L400.00 381.80 L400.00 379.00 L403.00 379.00 L403.00 374.70 L405.00 374.70 L405.00 372.00 L407.50 372.00 L407.50 369.30 L425.30 369.30 L425.30 366.00 L452.50 366.00 L452.50 362.50 L471.80 362.50 L471.80 359.80 L477.00 359.80 L477.00 356.30 L504.20 356.30" fill="none" stroke="#363d55" stroke-width="1.3"/>
<path d="M357.00 415.90 L357.00 415.90 L357.00 413.50 L360.00 413.50 L360.00 412.00 L363.00 412.00 L363.00 410.00 L367.00 410.00 L367.00 406.40 L370.00 406.40 L370.00 403.50 L373.10 403.50 L373.10 401.00 L376.00 401.00 L376.00 398.50 L378.50 398.50 L378.50 395.70 L379.80 395.70 L379.80 392.30 L393.40 392.30 L393.40 390.50 L401.30 390.50 L401.30 387.90 L406.60 387.90 L406.60 383.50 L411.00 383.50 L411.00 380.90 L414.50 380.90 L414.50 378.20 L418.90 378.20 L418.90 376.50 L449.80 376.50 L449.80 374.70 L462.10 374.70 L462.10 372.10 L463.00 372.10 L463.00 370.70 L477.90 370.70 L477.90 369.50 L504.20 369.50" fill="none" stroke="#dc850c" stroke-width="1.3"/>
<path d="M332.60 415.90 L368.40 415.90 L368.40 410.50 L378.50 410.50 L378.50 407.50 L381.20 407.50 L381.20 404.40 L384.00 404.40 L384.00 402.50 L386.60 402.50 L386.60 400.40 L389.00 400.40 L389.00 398.00 L391.70 398.00 L391.70 395.80 L394.30 395.80 L394.30 390.50 L399.60 390.50 L399.60 387.00 L428.40 387.00 L428.40 383.50 L434.00 383.50 L434.00 379.10 L438.40 379.10 L438.40 376.50 L477.00 376.50 L477.00 373.50 L504.20 373.50" fill="none" stroke="#52a332" stroke-width="1.3"/>
<g transform="translate(260,257.3)">
<text x="7.90" y="18.50" font-size="13" text-anchor="start" fill="#000" font-weight="bold" stroke="#000" stroke-width="0.6">D</text>
<text x="158.60" y="19.60" font-size="10" text-anchor="middle" fill="#1a1a1a" font-weight="normal" letter-spacing="0.2" stroke="#1a1a1a" stroke-width="0.15">Grade II−IV Acute GVHD</text>
<path d="M65.5 32 V164.0 H251.3" fill="none" stroke="#000" stroke-width="1.3"/>
<path d="M62.2 158.60 H65.5" stroke="#000" stroke-width="1"/>
<text x="59.00" y="161.60" font-size="9.2" text-anchor="end" fill="#222" font-weight="normal" stroke="#222" stroke-width="0.15">0 %</text>
<path d="M62.2 128.07 H65.5" stroke="#000" stroke-width="1"/>
<text x="59.00" y="131.07" font-size="9.2" text-anchor="end" fill="#222" font-weight="normal" stroke="#222" stroke-width="0.15">25 %</text>
<path d="M62.2 97.55 H65.5" stroke="#000" stroke-width="1"/>
<text x="59.00" y="100.55" font-size="9.2" text-anchor="end" fill="#222" font-weight="normal" stroke="#222" stroke-width="0.15">50 %</text>
<path d="M62.2 67.02 H65.5" stroke="#000" stroke-width="1"/>
<text x="59.00" y="70.02" font-size="9.2" text-anchor="end" fill="#222" font-weight="normal" stroke="#222" stroke-width="0.15">75 %</text>
<path d="M62.2 36.50 H65.5" stroke="#000" stroke-width="1"/>
<text x="59.00" y="39.50" font-size="9.2" text-anchor="end" fill="#222" font-weight="normal" stroke="#222" stroke-width="0.15">100 %</text>
<path d="M72.60 164.0 V167.2" stroke="#000" stroke-width="1"/>
<text x="72.90" y="178.70" font-size="9.2" text-anchor="middle" fill="#222" font-weight="normal" stroke="#222" stroke-width="0.15">0</text>
<path d="M124.08 164.0 V167.2" stroke="#000" stroke-width="1"/>
<text x="124.38" y="178.70" font-size="9.2" text-anchor="middle" fill="#222" font-weight="normal" stroke="#222" stroke-width="0.15">30</text>
<path d="M175.56 164.0 V167.2" stroke="#000" stroke-width="1"/>
<text x="175.86" y="178.70" font-size="9.2" text-anchor="middle" fill="#222" font-weight="normal" stroke="#222" stroke-width="0.15">60</text>
<path d="M227.04 164.0 V167.2" stroke="#000" stroke-width="1"/>
<text x="227.34" y="178.70" font-size="9.2" text-anchor="middle" fill="#222" font-weight="normal" stroke="#222" stroke-width="0.15">90</text>
<path d="M244.20 164.0 V167.2" stroke="#000" stroke-width="1"/>
<text x="244.50" y="178.70" font-size="9.2" text-anchor="middle" fill="#222" font-weight="normal" stroke="#222" stroke-width="0.15">100</text>
<g transform="translate(158.40,193.20) scale(0.64,1)"><text x="0" y="0" font-size="10.5" text-anchor="middle" fill="#1a1a1a" font-weight="bold" stroke="#1a1a1a" stroke-width="0.1">Days from HSCT</text></g>
<g transform="translate(30.00,98.00) rotate(-90) scale(0.7,1)"><text x="0" y="0" font-size="10.2" text-anchor="middle" fill="#1a1a1a" font-weight="normal" stroke="#1a1a1a" stroke-width="0.4">Cumulative incidence</text></g>
<text x="58.70" y="207.00" font-size="8.5" text-anchor="end" fill="#111" font-weight="normal" stroke="#111" stroke-width="0.15">KIR</text>
<text x="58.70" y="219.90" font-size="8.5" text-anchor="end" fill="#111" font-weight="normal" stroke="#111" stroke-width="0.15">At−risk</text>
<text x="72.60" y="219.90" font-size="9.0" text-anchor="middle" fill="#60677c" font-weight="normal" stroke="#60677c" stroke-width="0.15">39</text>
<text x="124.08" y="219.90" font-size="9.0" text-anchor="middle" fill="#60677c" font-weight="normal" stroke="#60677c" stroke-width="0.15">31</text>
<text x="175.56" y="219.90" font-size="9.0" text-anchor="middle" fill="#60677c" font-weight="normal" stroke="#60677c" stroke-width="0.15">21</text>
<text x="227.04" y="219.90" font-size="9.0" text-anchor="middle" fill="#60677c" font-weight="normal" stroke="#60677c" stroke-width="0.15">17</text>
<text x="244.20" y="219.90" font-size="9.0" text-anchor="middle" fill="#60677c" font-weight="normal" stroke="#60677c" stroke-width="0.15">17</text>
<text x="72.60" y="233.00" font-size="9.0" text-anchor="middle" fill="#e0902c" font-weight="normal" stroke="#e0902c" stroke-width="0.15">92</text>
<text x="124.08" y="233.00" font-size="9.0" text-anchor="middle" fill="#e0902c" font-weight="normal" stroke="#e0902c" stroke-width="0.15">73</text>
<text x="175.56" y="233.00" font-size="9.0" text-anchor="middle" fill="#e0902c" font-weight="normal" stroke="#e0902c" stroke-width="0.15">53</text>
<text x="227.04" y="233.00" font-size="9.0" text-anchor="middle" fill="#e0902c" font-weight="normal" stroke="#e0902c" stroke-width="0.15">45</text>
<text x="244.20" y="233.00" font-size="9.0" text-anchor="middle" fill="#e0902c" font-weight="normal" stroke="#e0902c" stroke-width="0.15">44</text>
<text x="72.60" y="245.70" font-size="9.0" text-anchor="middle" fill="#5fa845" font-weight="normal" stroke="#5fa845" stroke-width="0.15">46</text>
<text x="124.08" y="245.70" font-size="9.0" text-anchor="middle" fill="#5fa845" font-weight="normal" stroke="#5fa845" stroke-width="0.15">41</text>
<text x="175.56" y="245.70" font-size="9.0" text-anchor="middle" fill="#5fa845" font-weight="normal" stroke="#5fa845" stroke-width="0.15">30</text>
<text x="227.04" y="245.70" font-size="9.0" text-anchor="middle" fill="#5fa845" font-weight="normal" stroke="#5fa845" stroke-width="0.15">25</text>
<text x="244.20" y="245.70" font-size="9.0" text-anchor="middle" fill="#5fa845" font-weight="normal" stroke="#5fa845" stroke-width="0.15">25</text>
<text x="185.60" y="38.40" font-size="8" text-anchor="middle" fill="#111" font-weight="normal" stroke="#111" stroke-width="0.15">KIR</text>
<path d="M148.10 48.80 H158.70" stroke="#363d55" stroke-width="1.3"/>
<text x="162.60" y="51.30" font-size="8" text-anchor="start" fill="#111" font-weight="normal" stroke="#111" stroke-width="0.15">KIR3DL1−Strong</text>
<path d="M148.10 61.25 H158.70" stroke="#dc850c" stroke-width="1.3"/>
<text x="162.60" y="63.75" font-size="8" text-anchor="start" fill="#111" font-weight="normal" stroke="#111" stroke-width="0.15">KIR3DL1−Non−Inhibiting</text>
<path d="M148.10 73.70 H158.70" stroke="#52a332" stroke-width="1.3"/>
<text x="162.60" y="76.20" font-size="8" text-anchor="start" fill="#111" font-weight="normal" stroke="#111" stroke-width="0.15">KIR3DL1−Weak</text>
</g>
</g></svg></body></html>
